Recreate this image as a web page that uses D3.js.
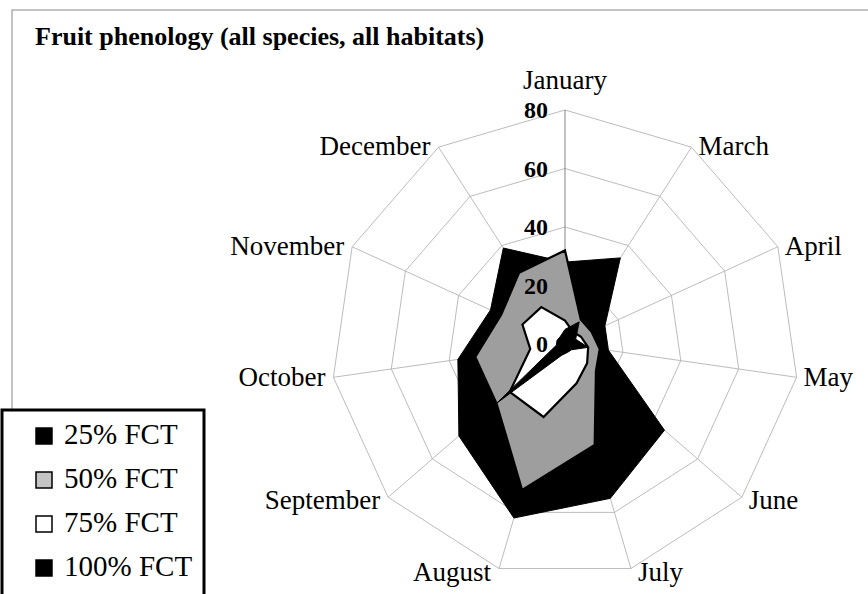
<!DOCTYPE html>
<html><head><meta charset="utf-8">
<script src="https://cdn.jsdelivr.net/npm/d3@7"></script>
<style>
html,body{margin:0;padding:0;background:#fff;}
svg{display:block;}
text{font-family:"Liberation Serif","Times New Roman",serif;fill:#000;}
</style></head>
<body>
<svg id="chart" width="868" height="594"></svg>
<script>
const categories = ["January","March","April","May","June","July","August","September","October","November","December"];
const seriesNames = ["25% FCT","50% FCT","75% FCT","100% FCT"];
const fct25  = [28, 35, 15, 15, 45, 55, 62, 48, 37, 28, 39];
const fct50  = [32, 10, 10, 12, 14, 36, 52, 31, 31, 24, 29];
const fct75  = [ 8,  5,  6,  8, 10, 14, 26, 25, 12, 16, 15];
const fct100 = [ 5,  9,  4,  8,  3,  3,  4, 31,  3,  3,  3];
const tickValues = [0, 20, 40, 60, 80];
const title = "Fruit phenology (all species, all habitats)";

const seriesData = [fct25, fct50, fct75, fct100];
const fills = ["#000000", "#9e9e9e", "#ffffff", "#000000"];

const svg = d3.select("#chart");
const cx = 565, cy = 344;

// outer chart border
svg.append("rect").attr("x", 12).attr("y", 10).attr("width", 900).attr("height", 700)
  .attr("fill", "none").attr("stroke", "#888").attr("stroke-width", 1);

svg.append("text").attr("x", 35).attr("y", 45)
  .style("font-weight", "bold").style("font-size", "26px").text(title);

const r = d3.scaleLinear().domain([0, 80]).range([0, 234]);
const ang = d3.scaleLinear().domain([0, categories.length]).range([0, 2 * Math.PI]);

const g = svg.append("g").attr("transform", `translate(${cx},${cy})`);

// grid rings
const ringLine = d3.lineRadial().angle((d, i) => ang(i)).radius(d => r(d)).curve(d3.curveLinearClosed);
tickValues.filter(v => v > 0).forEach(v => {
  g.append("path").attr("d", ringLine(categories.map(() => v)))
    .attr("fill", "none").attr("stroke", "#b4b4b4").attr("stroke-width", 0.9);
});
// spokes
categories.forEach((c, i) => {
  const a = ang(i);
  g.append("line").attr("x1", 0).attr("y1", 0)
    .attr("x2", r(80) * Math.sin(a)).attr("y2", -r(80) * Math.cos(a))
    .attr("stroke", i === 0 ? "#777" : "#b4b4b4").attr("stroke-width", 0.9);
});

// series
const area = d3.lineRadial().angle((d, i) => ang(i)).radius(d => r(d)).curve(d3.curveLinearClosed);
seriesData.forEach((s, k) => {
  g.append("path").attr("d", area(s))
    .attr("fill", fills[k]).attr("stroke", "#000").attr("stroke-width", k === 0 || k === 3 ? 1 : 2.2)
    .attr("stroke-linejoin", "miter");
});

// tick labels
tickValues.forEach(v => {
  g.append("text").attr("x", -17).attr("y", -r(v) + 8)
    .attr("text-anchor", "end").style("font-weight", "bold").style("font-size", "24px").text(v);
});

// category labels
categories.forEach((c, i) => {
  const a = ang(i), s = Math.sin(a), co = Math.cos(a);
  const ex = r(80) * s, ey = -r(80) * co;
  let anchor = Math.abs(s) < 0.1 ? "middle" : (s > 0 ? "start" : "end");
  let x = ex + (Math.abs(s) < 0.1 ? 0 : (s > 0 ? 7 : -8));
  let y = co > 0.95 ? ey - 21 : ey + 8 + 5 * Math.max(0, -co);
  g.append("text").attr("x", x).attr("y", y).attr("text-anchor", anchor)
    .style("font-size", "27px").text(c);
});

// legend
const lg = svg.append("g");
lg.append("rect").attr("x", 2).attr("y", 410).attr("width", 202).attr("height", 200)
  .attr("fill", "#fff").attr("stroke", "#000").attr("stroke-width", 3);
const legFills = ["#000000", "#c4c4c4", "#ffffff", "#000000"];
seriesNames.forEach((n, k) => {
  const y = 444 + k * 44;
  lg.append("rect").attr("x", 36).attr("y", y - 16).attr("width", 16).attr("height", 16)
    .attr("fill", legFills[k]).attr("stroke", "#000").attr("stroke-width", 1.5);
  lg.append("text").attr("x", 64).attr("y", y).style("font-size", "29px").text(n);
});
</script>
</body></html>
